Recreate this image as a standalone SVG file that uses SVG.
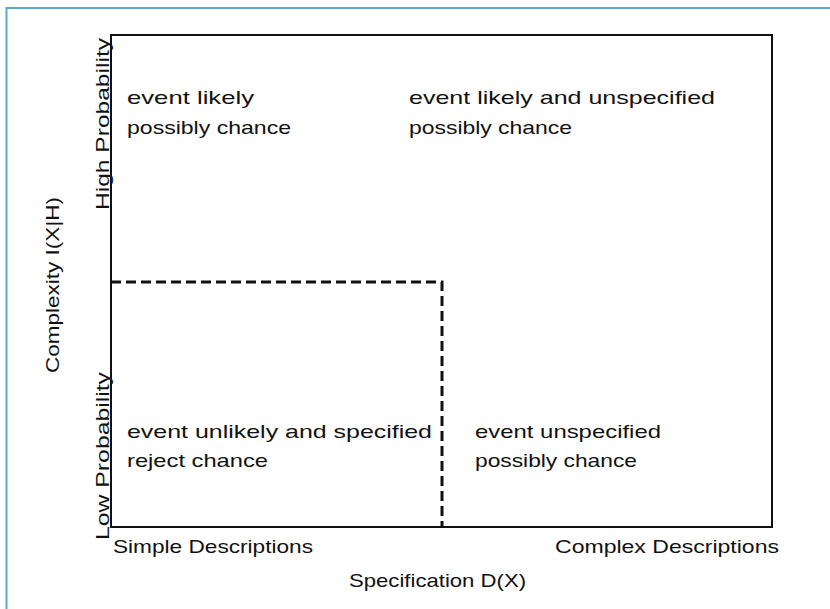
<svg xmlns="http://www.w3.org/2000/svg" width="830" height="609" viewBox="0 0 830 609">
<style>
text{font-family:"Liberation Sans","DejaVu Sans",sans-serif;font-size:19px;fill:#111;}
.ax{fill:none;stroke:#111;stroke-width:2;}
.dash{fill:none;stroke:#111;stroke-width:3;stroke-dasharray:10,5;}
</style>
<rect x="0" y="0" width="830" height="609" fill="#ffffff"/>
<path d="M6.5,609 V8 H830" fill="none" stroke="#5ea8c4" stroke-width="2"/>
<g id="plot">
<rect class="ax" x="111" y="35" width="661" height="492"/>
</g>
<g id="connectors">
<path class="dash" d="M111,282 H442 V527"/>
</g>
<g id="q-topleft">
<text x="127" y="104" textLength="127" lengthAdjust="spacingAndGlyphs">event likely</text>
<text x="127" y="134" textLength="164" lengthAdjust="spacingAndGlyphs">possibly chance</text>
</g>
<g id="q-topright">
<text x="409" y="104" textLength="306" lengthAdjust="spacingAndGlyphs">event likely and unspecified</text>
<text x="409" y="134" textLength="163" lengthAdjust="spacingAndGlyphs">possibly chance</text>
</g>
<g id="q-bottomleft">
<text x="127" y="438" textLength="305" lengthAdjust="spacingAndGlyphs">event unlikely and specified</text>
<text x="127" y="467" textLength="141" lengthAdjust="spacingAndGlyphs">reject chance</text>
</g>
<g id="q-bottomright">
<text x="475" y="438" textLength="186" lengthAdjust="spacingAndGlyphs">event unspecified</text>
<text x="475" y="467" textLength="162" lengthAdjust="spacingAndGlyphs">possibly chance</text>
</g>
<g id="x-axis">
<text x="113" y="553" textLength="200" lengthAdjust="spacingAndGlyphs">Simple Descriptions</text>
<text x="555" y="553" textLength="224" lengthAdjust="spacingAndGlyphs">Complex Descriptions</text>
<text x="349" y="587" textLength="177" lengthAdjust="spacingAndGlyphs">Specification D(X)</text>
</g>
<g id="y-axis">
<text transform="translate(59,373) rotate(-90)" textLength="176" lengthAdjust="spacingAndGlyphs">Complexity I(X|H)</text>
<text transform="translate(109,210) rotate(-90)" textLength="172" lengthAdjust="spacingAndGlyphs">High Probability</text>
<text transform="translate(109,540) rotate(-90)" textLength="168" lengthAdjust="spacingAndGlyphs">Low Probability</text>
</g>
</svg>
